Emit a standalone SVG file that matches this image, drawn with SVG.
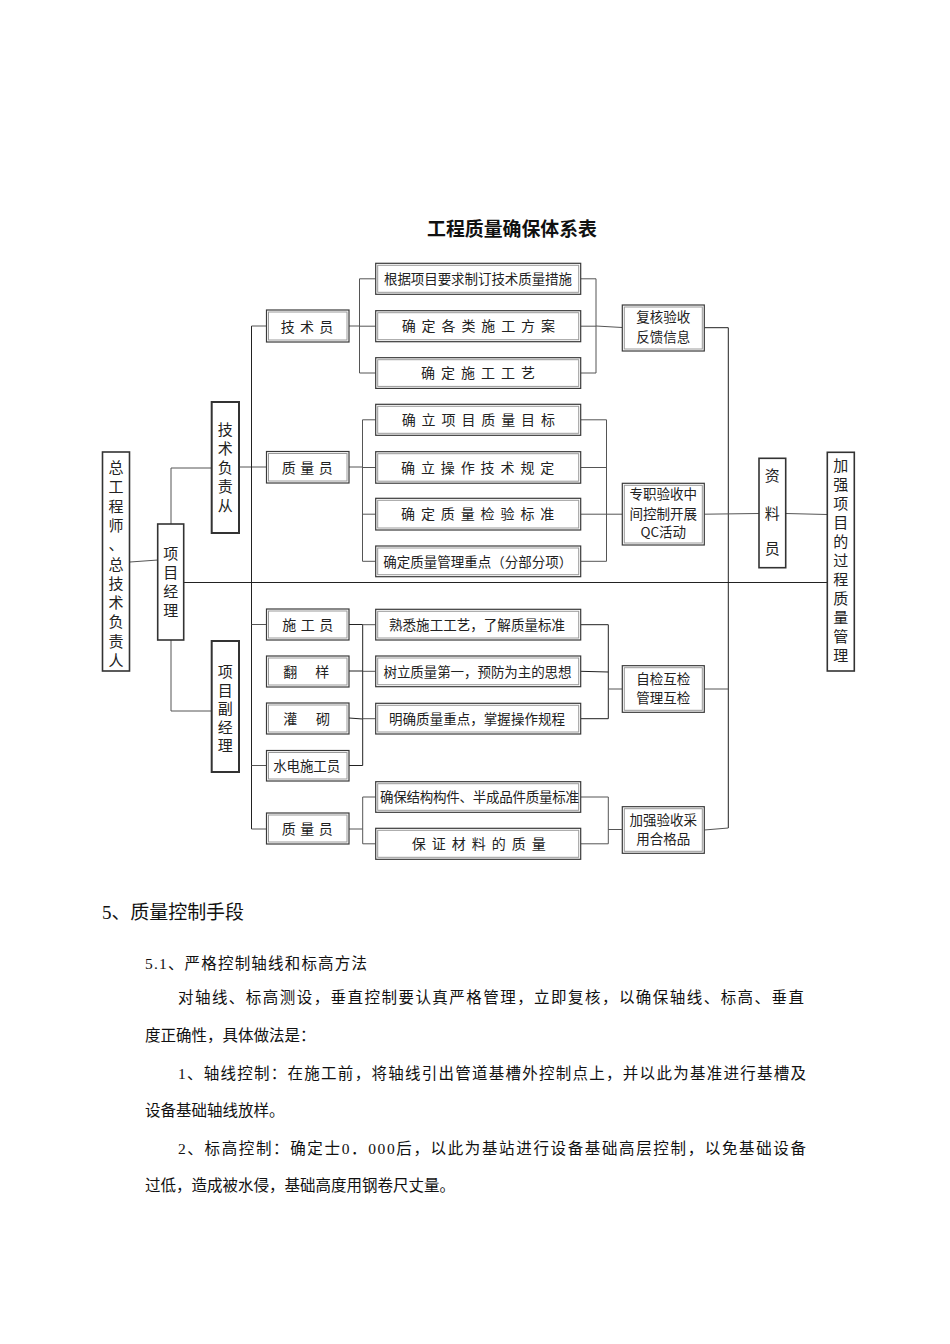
<svg xmlns="http://www.w3.org/2000/svg" width="950" height="1344" viewBox="0 0 950 1344">
<style>
.bx{fill:#fff;stroke:#3a3a3a;stroke-width:1.2}
.bi{fill:none;stroke:#9a9a9a;stroke-width:1}
.vb{fill:#fff;stroke:#333;stroke-width:1.6}
.ln{fill:none;stroke:#555;stroke-width:1}
.lk{fill:none;stroke:#222;stroke-width:1}
.t{font-family:"Noto Sans CJK SC","Noto Sans",sans-serif;font-size:14px;fill:#222}
.ts{font-family:"Noto Sans CJK SC","Noto Sans",sans-serif;font-size:13.5px;fill:#222}
.tv{font-family:"Noto Sans CJK SC","Noto Sans",sans-serif;font-size:15px;fill:#222;text-anchor:middle}
.tm{text-anchor:middle}
.body{font-family:"Liberation Serif","Noto Sans CJK SC",serif;font-size:15.5px;fill:#111}
</style>
<rect width="950" height="1344" fill="#fff"/>

<text x="512" y="236" text-anchor="middle" textLength="170" lengthAdjust="spacingAndGlyphs" style="font-family:'Noto Sans CJK SC',sans-serif;font-size:18.8px;font-weight:bold;fill:#111">工程质量确保体系表</text>

<g id="connectors">
  <path class="ln" d="M130 562 L158 560"/>
  <path class="ln" d="M171 524 V468 H212"/>
  <path class="ln" d="M171 640 V711 H212"/>
  <path class="lk" d="M184 582.5 H827.3"/>
  <path class="ln" d="M239 467 H266.5"/>
  <path class="lk" d="M251.5 326 V829"/>
  <path class="ln" d="M251.5 326 H266.5 M251.5 624.5 H266.5 M251.5 765.5 H266.5 M251.5 829 H266.5"/>
  <path class="ln" d="M349 326 H359.5 M359.5 278.8 V373 M359.5 278.8 H375.7 M359.5 326.2 H375.7 M359.5 373 H375.7"/>
  <path class="ln" d="M580.7 278.8 H596 M580.7 326.2 H596 M580.7 373 H596 M596 278.8 V373 M596 326 L622.3 327.5"/>
  <path class="lk" d="M704.3 327.7 H728.3 V828"/>
  <path class="ln" d="M349 467 H362.5 M362.5 419.8 V561.3 M362.5 419.8 H375.7 M362.5 467.5 H375.7 M362.5 514.2 H375.7 M362.5 561.3 H375.7"/>
  <path class="ln" d="M580.7 419.8 H606.5 M580.7 467.5 H606.5 M580.7 514.2 H606.5 M580.7 561.3 H606.5 M606.5 419.8 V561.3 M606.5 514.2 H622.3"/>
  <path class="ln" d="M704.3 514.2 L759 513.5 M785.7 513.5 L827.3 514.5"/>
  <path class="lk" d="M349 624.5 H362.7 M349 671 H362.7 M349 718 L362.7 719 M349 765.5 H362.7 M362.7 624.5 V765.5"/>
  <path class="ln" d="M362.7 624.7 H375.7 M362.7 671.3 H375.7 M362.7 718.7 H375.7"/>
  <path class="lk" d="M580.7 624.7 H608.3 M580.7 671.3 L608.3 672 M580.7 718.7 H608.3 M608.3 624.7 V718.7"/>
  <path class="ln" d="M608.3 689 H622.3 M704.3 689 H728.3"/>
  <path class="ln" d="M349 829 H362.7 M362.7 797 V843.8 M362.7 797 H375.7 M362.7 843.8 H375.7"/>
  <path class="ln" d="M580.7 797 H608.3 M580.7 843.8 H608.3 M608.3 797 V843.8 M608.3 829.5 H622.3 M704.3 830 L728.3 828"/>
</g>

<g id="n_zgcs">
  <rect class="vb" x="102.5" y="452" width="27" height="219"/>
  <text class="tv"><tspan x="116" y="473">总</tspan><tspan x="116" y="492.3">工</tspan><tspan x="116" y="511.6">程</tspan><tspan x="116" y="530.9">师</tspan><tspan x="116" y="550.2">、</tspan><tspan x="116" y="569.5">总</tspan><tspan x="116" y="588.8">技</tspan><tspan x="116" y="608.1">术</tspan><tspan x="116" y="627.4">负</tspan><tspan x="116" y="646.7">责</tspan><tspan x="116" y="666">人</tspan></text>
</g>
<g id="n_xmjl">
  <rect class="vb" x="157.7" y="524" width="26" height="116"/>
  <text class="tv"><tspan x="170.7" y="559">项</tspan><tspan x="170.7" y="578">目</tspan><tspan x="170.7" y="597">经</tspan><tspan x="170.7" y="616">理</tspan></text>
</g>
<g id="n_jsfz">
  <rect class="vb" x="211.7" y="402" width="27.3" height="131" style="stroke-width:2"/>
  <text class="tv"><tspan x="225.3" y="435">技</tspan><tspan x="225.3" y="454">术</tspan><tspan x="225.3" y="473">负</tspan><tspan x="225.3" y="492">责</tspan><tspan x="225.3" y="511">从</tspan></text>
</g>
<g id="n_xmfjl">
  <rect class="vb" x="211.7" y="641" width="27.3" height="131" style="stroke-width:2"/>
  <text class="tv"><tspan x="225.3" y="677">项</tspan><tspan x="225.3" y="695.5">目</tspan><tspan x="225.3" y="714">副</tspan><tspan x="225.3" y="732.5">经</tspan><tspan x="225.3" y="751">理</tspan></text>
</g>
<g id="n_zly">
  <rect class="vb" x="759" y="458.3" width="26.7" height="109.4"/>
  <text class="tv"><tspan x="772.3" y="481">资</tspan><tspan x="772.3" y="518.5">料</tspan><tspan x="772.3" y="554">员</tspan></text>
</g>
<g id="n_jqxm">
  <rect class="vb" x="827.3" y="452.3" width="27" height="218.7"/>
  <text class="tv"><tspan x="840.8" y="470.5">加</tspan><tspan x="840.8" y="489.5">强</tspan><tspan x="840.8" y="508.5">项</tspan><tspan x="840.8" y="527.5">目</tspan><tspan x="840.8" y="546.5">的</tspan><tspan x="840.8" y="565.5">过</tspan><tspan x="840.8" y="584.5">程</tspan><tspan x="840.8" y="603.5">质</tspan><tspan x="840.8" y="622.5">量</tspan><tspan x="840.8" y="641.5">管</tspan><tspan x="840.8" y="660.5">理</tspan></text>
</g>

<g id="n_jsy">
  <rect class="bx" x="266.5" y="310" width="82.5" height="32"/><rect class="bi" x="268.5" y="312" width="78.5" height="28"/>
  <text class="t" x="280.7 300 319.3" y="331.5">技术员</text>
</g>
<g id="n_zly1">
  <rect class="bx" x="266.5" y="451.5" width="82.5" height="31.5"/><rect class="bi" x="268.5" y="453.5" width="78.5" height="27.5"/>
  <text class="t" x="281.7 300.2 318.7" y="472.5">质量员</text>
</g>
<g id="n_sgy">
  <rect class="bx" x="266.5" y="609" width="82.5" height="31"/><rect class="bi" x="268.5" y="611" width="78.5" height="27"/>
  <text class="t" x="282.3 300.8 319.3" y="629.8">施工员</text>
</g>
<g id="n_fy">
  <rect class="bx" x="266.5" y="656" width="82.5" height="31"/><rect class="bi" x="268.5" y="658" width="78.5" height="27"/>
  <text class="t" x="283.3 315.3" y="676.5">翻样</text>
</g>
<g id="n_gq">
  <rect class="bx" x="266.5" y="703" width="82.5" height="31"/><rect class="bi" x="268.5" y="705" width="78.5" height="27"/>
  <text class="t" x="283.3 316" y="723.8">灌砌</text>
</g>
<g id="n_sdsgy">
  <rect class="bx" x="266.5" y="750.5" width="82.5" height="30.5"/><rect class="bi" x="268.5" y="752.5" width="78.5" height="26.5"/>
  <text class="ts tm" x="306.7" y="770.8" textLength="67" lengthAdjust="spacing">水电施工员</text>
</g>
<g id="n_zly2">
  <rect class="bx" x="266.5" y="813" width="82.5" height="31"/><rect class="bi" x="268.5" y="815" width="78.5" height="27"/>
  <text class="t" x="281.7 300.2 318.7" y="833.8">质量员</text>
</g>

<g id="n_m1">
  <rect class="bx" x="375.7" y="263.3" width="205" height="31"/><rect class="bi" x="377.7" y="265.3" width="201" height="27"/>
  <text class="ts tm" x="478" y="284" textLength="188" lengthAdjust="spacing">根据项目要求制订技术质量措施</text>
</g>
<g id="n_m2">
  <rect class="bx" x="375.7" y="310.7" width="205" height="31"/><rect class="bi" x="377.7" y="312.7" width="201" height="27"/>
  <text class="t" x="401.7 421.6 441.5 461.4 481.3 501.2 521.1 541" y="331.3">确定各类施工方案</text>
</g>
<g id="n_m3">
  <rect class="bx" x="375.7" y="357.7" width="205" height="30.7"/><rect class="bi" x="377.7" y="359.7" width="201" height="26.7"/>
  <text class="t" x="421 441 461 481 501 521" y="378.2">确定施工工艺</text>
</g>
<g id="n_m4">
  <rect class="bx" x="375.7" y="404.3" width="205" height="31"/><rect class="bi" x="377.7" y="406.3" width="201" height="27"/>
  <text class="t" x="401.7 421.6 441.5 461.4 481.3 501.2 521.1 541" y="425">确立项目质量目标</text>
</g>
<g id="n_m5">
  <rect class="bx" x="375.7" y="451.7" width="205" height="31.5"/><rect class="bi" x="377.7" y="453.7" width="201" height="27.5"/>
  <text class="t" x="401 420.9 440.8 460.7 480.6 500.5 520.4 540.3" y="472.7">确立操作技术规定</text>
</g>
<g id="n_m6">
  <rect class="bx" x="375.7" y="498.3" width="205" height="31.7"/><rect class="bi" x="377.7" y="500.3" width="201" height="27.7"/>
  <text class="t" x="401 420.9 440.8 460.7 480.6 500.5 520.4 540.3" y="519.4">确定质量检验标准</text>
</g>
<g id="n_m7">
  <rect class="bx" x="375.7" y="546" width="205" height="30.7"/><rect class="bi" x="377.7" y="548" width="201" height="26.7"/>
  <text class="ts tm" x="477.8" y="566.5" textLength="189" lengthAdjust="spacing">确定质量管理重点（分部分项）</text>
</g>
<g id="n_m8">
  <rect class="bx" x="375.7" y="609.3" width="205" height="30.7"/><rect class="bi" x="377.7" y="611.3" width="201" height="26.7"/>
  <text class="ts tm" x="477" y="629.8" textLength="176" lengthAdjust="spacing">熟悉施工工艺，了解质量标准</text>
</g>
<g id="n_m9">
  <rect class="bx" x="375.7" y="656" width="205" height="30.7"/><rect class="bi" x="377.7" y="658" width="201" height="26.7"/>
  <text class="ts tm" x="477.5" y="676.5" textLength="188" lengthAdjust="spacing">树立质量第一，预防为主的思想</text>
</g>
<g id="n_m10">
  <rect class="bx" x="375.7" y="703.3" width="205" height="30.7"/><rect class="bi" x="377.7" y="705.3" width="201" height="26.7"/>
  <text class="ts tm" x="477" y="723.8" textLength="176" lengthAdjust="spacing">明确质量重点，掌握操作规程</text>
</g>
<g id="n_m11">
  <rect class="bx" x="375.7" y="781.7" width="205" height="30.6"/><rect class="bi" x="377.7" y="783.7" width="201" height="26.6"/>
  <text class="ts tm" x="479.5" y="802" textLength="199" lengthAdjust="spacing">确保结构构件、半成品件质量标准</text>
</g>
<g id="n_m12">
  <rect class="bx" x="375.7" y="828.3" width="205" height="31"/><rect class="bi" x="377.7" y="830.3" width="201" height="27"/>
  <text class="t" x="411.7 431.7 451.7 471.7 491.7 511.7 531.7" y="849">保证材料的质量</text>
</g>

<g id="n_fhys">
  <rect class="bx" x="622.3" y="305" width="82" height="46"/><rect class="bi" x="624.3" y="307" width="78" height="42"/>
  <text class="ts tm" x="663.3" y="321.8">复核验收</text>
  <text class="ts tm" x="663.3" y="341.8">反馈信息</text>
</g>
<g id="n_zzys">
  <rect class="bx" x="622.3" y="483.3" width="82" height="61.7"/><rect class="bi" x="624.3" y="485.3" width="78" height="57.7"/>
  <text class="ts tm" x="663.3" y="498.5">专职验收中</text>
  <text class="ts tm" x="663.3" y="518.5">间控制开展</text>
  <text class="ts tm" x="663.3" y="536.8">QC活动</text>
</g>
<g id="n_zjhj">
  <rect class="bx" x="622.3" y="665.7" width="82" height="46.6"/><rect class="bi" x="624.3" y="667.7" width="78" height="42.6"/>
  <text class="ts tm" x="663.3" y="683.5">自检互检</text>
  <text class="ts tm" x="663.3" y="702.5">管理互检</text>
</g>
<g id="n_jqys">
  <rect class="bx" x="622.3" y="806.7" width="82" height="46.6"/><rect class="bi" x="624.3" y="808.7" width="78" height="42.6"/>
  <text class="ts tm" x="663.3" y="825.2">加强验收采</text>
  <text class="ts tm" x="663.3" y="843.5">用合格品</text>
</g>

<text class="body" x="102" y="919" style="font-size:19px" textLength="142" lengthAdjust="spacing">5、质量控制手段</text>
<text class="body" x="145" y="969" textLength="222" lengthAdjust="spacing">5.1、严格控制轴线和标高方法</text>
<text class="body" x="178" y="1003" textLength="626" lengthAdjust="spacing">对轴线、标高测设，垂直控制要认真严格管理，立即复核，以确保轴线、标高、垂直</text>
<text class="body" x="145" y="1041">度正确性，具体做法是：</text>
<text class="body" x="178" y="1079" textLength="628" lengthAdjust="spacing">1、轴线控制：在施工前，将轴线引出管道基槽外控制点上，并以此为基准进行基槽及</text>
<text class="body" x="145" y="1116">设备基础轴线放样。</text>
<text class="body" x="178" y="1154" textLength="628" lengthAdjust="spacing">2、标高控制：确定士0．000后，以此为基站进行设备基础高层控制，以免基础设备</text>
<text class="body" x="145" y="1191">过低，造成被水侵，基础高度用钢卷尺丈量。</text>
</svg>
